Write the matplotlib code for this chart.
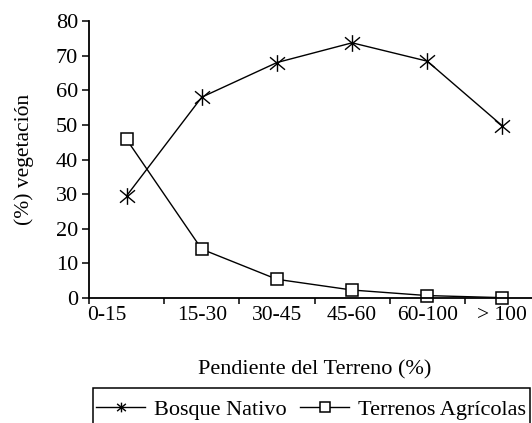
import matplotlib.pyplot as plt
import numpy as np
from matplotlib.patches import Rectangle
from matplotlib.path import Path

plt.rcParams['font.family'] = ['Liberation Serif', 'DejaVu Serif']

categorias = ['0-15', '15-30', '30-45', '45-60', '60-100', '> 100']
bosque_nativo = [29.5, 58, 68, 73.7, 68.4, 49.7]
terrenos_agricolas = [45.8, 14.1, 5.4, 2.3, 0.7, 0.1]

W, H = 532, 423
fig = plt.figure(figsize=(W / 100, H / 100), dpi=100)
ax = fig.add_axes([89 / W, 1 - 298 / H, (540 - 89) / W, (298 - 21) / H])

# asterisco: barra vertical + aspa
ast = Path([(0, -1), (0, 1), (-0.9, -0.75), (0.9, 0.75), (-0.9, 0.75), (0.9, -0.75)],
           [Path.MOVETO, Path.LINETO, Path.MOVETO, Path.LINETO, Path.MOVETO, Path.LINETO])

x = np.arange(len(categorias))
ax.plot(x, bosque_nativo, color='black', lw=1.0, marker=ast, ms=12, mew=1.0,
        clip_on=False, label='Bosque Nativo')
ax.plot(x, terrenos_agricolas, color='black', lw=1.0, marker='s', ms=9,
        mfc='white', mec='black', mew=1.1, clip_on=False,
        label='Terrenos Agrícolas')

ax.set_xlim(-0.5, len(categorias) - 0.5)
ax.set_ylim(0, 80)
ax.set_yticks(range(0, 81, 10))
ax.set_xticks(np.arange(-0.5, len(categorias) - 0.5, 1))
ax.set_xticklabels([])
ax.set_xticks(x, minor=True)
ax.set_xticklabels(categorias, minor=True)
ax.tick_params(axis='x', which='minor', length=0, pad=6, labelsize=15.5)
ax.tick_params(axis='x', which='major', length=4, width=1.1, direction='out')
ax.tick_params(axis='y', length=5, width=1.1, direction='out', pad=3, labelsize=16)
lab0 = ax.xaxis.get_minorticklabels()[0]
lab0.set_horizontalalignment('right')

for s in ['top', 'right']:
    ax.spines[s].set_visible(False)
for s in ['left', 'bottom']:
    ax.spines[s].set_linewidth(1.3)

ax.set_ylabel('(%) vegetación', fontsize=15.5, labelpad=15.5)
ax.set_xlabel('Pendiente del Terreno (%)', fontsize=16, labelpad=25)

leg = fig.legend(loc='upper left', bbox_to_anchor=(93 / W, 1 - 396 / H),
                 ncol=2, frameon=False, fontsize=16, handlelength=2.2,
                 handletextpad=0.4, columnspacing=0.6, borderpad=0.15,
                 borderaxespad=0)
for h in leg.legend_handles:
    h.set_markersize(7)
fig.add_artist(Rectangle((93 / W, -0.05), (530 - 93) / W, 0.05 + (423 - 388) / H,
                         transform=fig.transFigure, fill=False, lw=1.1,
                         edgecolor='black'))

fig.savefig('out.png', dpi=100)
